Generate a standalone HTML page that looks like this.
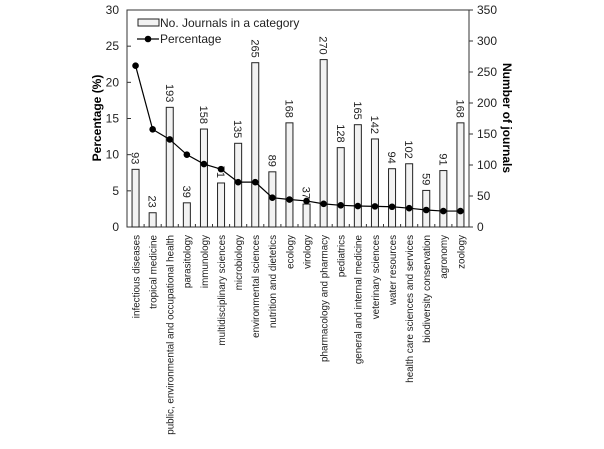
<!DOCTYPE html>
<html><head><meta charset="utf-8"><style>
body{margin:0;background:#fff;}
svg{display:block;font-family:"Liberation Sans",Arial,sans-serif;}
</style></head><body>
<svg id="chart" width="604" height="449" viewBox="0 0 604 449"></svg>
<script>
const categories=["infectious diseases","tropical medicine","public, environmental and occupational health","parasitology","immunology","multidisciplinary sciences","microbiology","environmental sciences","nutrition and dietetics","ecology","virology","pharmacology and pharmacy","pediatrics","general and internal medicine","veterinary sciences","water resources","health care sciences and services","biodiversity conservation","agronomy","zoology"];
const journals=[93,23,193,39,158,71,135,265,89,168,37,270,128,165,142,94,102,59,91,168];
const percentages=[22.3,13.5,12.1,10.0,8.7,8.0,6.2,6.2,4.05,3.8,3.6,3.2,3.0,2.9,2.85,2.8,2.6,2.35,2.2,2.2];
const leftTicks=[0,5,10,15,20,25,30];
const rightTicks=[0,50,100,150,200,250,300,350];

const NS="http://www.w3.org/2000/svg";
const svg=document.getElementById('chart');
const L=127,R=469,T=10,B=227;
const band=(R-L)/categories.length;
const xC=i=>L+band*(i+0.5);
const yP=v=>B-(v/30)*(B-T);
const yN=v=>B-(v/350)*(B-T);
function mk(tag,attrs,parent){const e=document.createElementNS(NS,tag);for(const k in attrs)e.setAttribute(k,attrs[k]);(parent||svg).appendChild(e);return e;}

const frame=mk('rect',{x:L,y:T,width:R-L,height:B-T,fill:'none',stroke:'#333','stroke-width':1});



leftTicks.forEach(v=>{
  const y=yP(v);
  const t=mk('line',{x1:L,x2:L+4,y1:y,y2:y,stroke:'#333'});
  
  
  const tx=mk('text',{x:L-8,y:y+4,'text-anchor':'end','font-size':12,fill:'#222'});
  tx.textContent=v;
  
  
});
rightTicks.forEach(v=>{
  const y=yN(v);
  const t=mk('line',{x1:R,x2:R+4,y1:y,y2:y,stroke:'#333'});
  
  
  const tx=mk('text',{x:R+8,y:y+4,'text-anchor':'start','font-size':12,fill:'#222'});
  tx.textContent=v;
  
  
});
for(let i=0;i<=categories.length;i++){
  const x=L+band*i;
  const t=mk('line',{x1:x,x2:x,y1:B,y2:B-3,stroke:'#333'});
  
  
}

journals.forEach((v,i)=>{
  const x=xC(i),y=yN(v);
  const b=mk('rect',{x:x-3.5,y:y,width:7,height:B-y,fill:'#f2f2f2',stroke:'#222','stroke-width':1});
  
  
  const t=mk('text',{x:0,y:0,'font-size':11,fill:'#222',transform:`translate(${x-4},${y-5}) rotate(90)`,'text-anchor':'end'});
  t.textContent=v;
  
  
});

const pts=percentages.map((v,i)=>xC(i)+','+yP(v)).join(' ');
const pl=mk('polyline',{points:pts,fill:'none',stroke:'#000','stroke-width':1.2});


percentages.forEach((v,i)=>{
  const c=mk('circle',{cx:xC(i),cy:yP(v),r:3.3,fill:'#000'});
  
  
});

const catEls=[];
categories.forEach((c,i)=>{
  const t=mk('text',{x:0,y:0,'font-size':10,fill:'#222','text-anchor':'end'});
  t.textContent=c;
  
  
  catEls.push(t);
});
let maxLen=0;
catEls.forEach(t=>{try{maxLen=Math.max(maxLen,t.getComputedTextLength());}catch(e){}});
const sc=maxLen>0?200/maxLen:1;
catEls.forEach((t,i)=>{
  t.setAttribute('transform',`translate(${xC(i)+3.8},235) rotate(-90) scale(${sc},1.05)`);
});

const yt=mk('text',{x:0,y:0,'font-size':12,'font-weight':'bold','text-anchor':'middle',transform:'translate(101,118) rotate(-90)'});
yt.textContent='Percentage (%)';


const rt=mk('text',{x:0,y:0,'font-size':12,'font-weight':'bold','text-anchor':'middle',transform:'translate(503,118) rotate(90)'});
rt.textContent='Number of journals';



const lg=mk('g',{});


const lb=mk('rect',{x:138,y:19,width:21,height:7,fill:'#f2f2f2',stroke:'#222'},lg);


const lt1=mk('text',{x:160,y:27,'font-size':12,fill:'#222'},lg);
lt1.textContent='No. Journals in a category';


const ll=mk('line',{x1:137,x2:159,y1:39,y2:39,stroke:'#000','stroke-width':1.2},lg);


const lc=mk('circle',{cx:148,cy:39,r:3.3,fill:'#000'},lg);


const lt2=mk('text',{x:160,y:43,'font-size':12,fill:'#222'},lg);
lt2.textContent='Percentage';


</script>
</body></html>
